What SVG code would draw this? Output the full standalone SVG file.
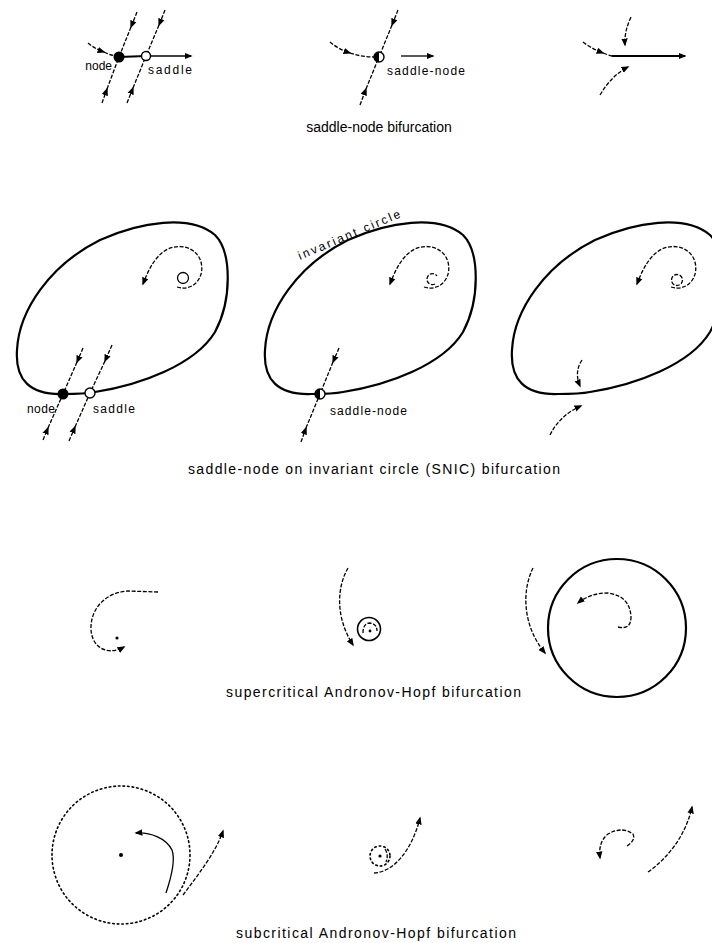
<svg xmlns="http://www.w3.org/2000/svg" width="712" height="943" viewBox="0 0 712 943">
<style>
text{font-family:"Liberation Sans",Arial,sans-serif;fill:#000}
.cap{font-size:14px}
.lab{font-size:12px}
.thick{fill:none;stroke:#000;stroke-width:2.2}
.traj{fill:none;stroke:#000;stroke-width:1.3;stroke-dasharray:4 1.6}
.sol{fill:none;stroke:#000;stroke-width:1.3}
.dot{fill:none;stroke:#000;stroke-width:1.6;stroke-dasharray:1.6 3;stroke-linecap:round}
.a{marker-end:url(#ah)}
</style>
<defs>
<marker id="ah" viewBox="0 0 10 10" refX="8" refY="5" markerWidth="8" markerHeight="8" orient="auto" markerUnits="userSpaceOnUse">
<path d="M0,1 L10,5 L0,9 z" fill="#000"/>
</marker>
<path id="loop" d="M 63 394 C 30 395, 15 380, 17 350 C 19 310, 50 265, 100 240 C 140 222, 190 214, 215 235 C 232 252, 232 300, 215 332 C 195 365, 140 385, 95 392 C 85 394, 72 394, 63 394 Z"/>
<path id="spiral" d="M 177 287 C 193 292, 205 278, 201 262 C 197 248, 181 243, 168 249 C 156 255, 149 268, 143 284"/>
</defs>
<rect width="712" height="943" fill="#fff"/>

<!-- Row 1: saddle-node bifurcation -->
<g id="sn-before">
<path class="traj a" d="M 88 43 Q 95 49 104 52"/>
<path class="traj" d="M 104 52 Q 110 55 116 56"/>
<path class="traj a" d="M 137 12 L 131 27"/><path class="traj" d="M 131 27 L 119 57"/>
<path class="traj a" d="M 102 103 L 107 89"/><path class="traj" d="M 107 89 L 119 57"/>
<path class="traj a" d="M 165 10 L 159 25"/><path class="traj" d="M 159 25 L 146 56"/>
<path class="traj a" d="M 127 103 L 133 88"/><path class="traj" d="M 133 88 L 146 56"/>
<line class="thick" x1="119" y1="57" x2="146" y2="56"/>
<line class="sol a" x1="150" y1="56" x2="191" y2="56"/>
<circle cx="119" cy="57" r="5.5" fill="#000"/>
<circle cx="146" cy="56" r="4.5" fill="#fff" stroke="#000" stroke-width="1.4"/>
<text class="lab" x="112" y="70" text-anchor="end" font-size="11">node</text>
<text class="lab" x="148" y="74" textLength="44">saddle</text>
</g>
<g id="sn-at">
<path class="traj a" d="M 330 42 Q 338 49 350 53"/>
<path class="traj" d="M 350 53 Q 362 57 374 57"/>
<path class="traj a" d="M 398 10 L 392 25"/><path class="traj" d="M 392 25 L 379 57"/>
<path class="traj a" d="M 360 105 L 366 89"/><path class="traj" d="M 366 89 L 379 57"/>
<line class="sol a" x1="401" y1="56" x2="433" y2="56"/>
<circle cx="379" cy="57" r="5" fill="#fff" stroke="#000" stroke-width="1.4"/>
<path d="M 379 52 A 5 5 0 0 0 379 62 Z" fill="#000"/>
<text class="lab" x="387" y="75" textLength="78">saddle-node</text>
</g>
<g id="sn-after">
<path class="traj a" d="M 583 42 Q 592 49 603 53"/>
<path class="traj" d="M 603 53 Q 608 55 612 56"/>
<line class="thick a" x1="612" y1="56" x2="685" y2="56"/>
<path class="traj a" d="M 631 17 Q 624 32 625 45"/>
<path class="traj a" d="M 600 95 Q 612 75 628 67"/>
</g>
<text id="cap1" class="cap" x="379" y="132" text-anchor="middle">saddle-node bifurcation</text>

<!-- Row 2: SNIC -->
<g id="snic-before">
<use href="#loop" class="thick"/>
<use href="#spiral" class="traj a"/>
<circle cx="183" cy="278" r="5.5" class="sol"/>
<path class="traj a" d="M 83 348 L 77 362"/><path class="traj" d="M 77 362 L 63 394"/>
<path class="traj a" d="M 43 440 L 48 428"/><path class="traj" d="M 48 428 L 63 394"/>
<path class="traj a" d="M 112 345 L 105 361"/><path class="traj" d="M 105 361 L 90 393"/>
<path class="traj a" d="M 69 441 L 75 427"/><path class="traj" d="M 75 427 L 90 393"/>
<circle cx="63" cy="394" r="5.5" fill="#000"/>
<circle cx="90" cy="393" r="5" fill="#fff" stroke="#000" stroke-width="1.4"/>
<text class="lab" x="27" y="413" textLength="28">node</text>
<text class="lab" x="93" y="413" textLength="42">saddle</text>
</g>
<g id="snic-at">
<use href="#loop" class="thick" transform="translate(248,0)"/>
<use href="#spiral" class="traj a" transform="translate(247,0)"/>
<path class="traj" d="M 435 284 A 5.5 5.5 0 1 1 437 276"/>
<path class="traj a" d="M 339 348 L 333 362"/><path class="traj" d="M 333 362 L 320 394"/>
<path class="traj a" d="M 301 442 L 306 428"/><path class="traj" d="M 306 428 L 320 394"/>
<circle cx="320" cy="394" r="5" fill="#fff" stroke="#000" stroke-width="1.4"/>
<path d="M 320 389 A 5 5 0 0 0 320 399 Z" fill="#000"/>
<text class="lab" x="330" y="415" textLength="77">saddle-node</text>
<text class="lab" transform="translate(300,260) rotate(-23)" textLength="110">invariant circle</text>
</g>
<g id="snic-after">
<use href="#loop" class="thick" transform="translate(495,0)"/>
<use href="#spiral" class="traj a" transform="translate(494,0)"/>
<circle cx="677" cy="280" r="5.5" class="traj"/>
<path class="traj a" d="M 582 360 Q 574 372 580 386"/>
<path class="traj a" d="M 550 435 Q 560 415 581 406"/>
</g>
<text id="cap2" class="cap" x="188" y="474" textLength="372">saddle-node on invariant circle (SNIC) bifurcation</text>

<!-- Row 3: supercritical Hopf -->
<g id="sup-before">
<path class="traj a" d="M 158 592 L 128 591 C 108 592, 92 606, 91 626 C 90 646, 106 657, 124 647"/>
<circle cx="117" cy="638" r="1.6" fill="#000"/>
</g>
<g id="sup-at">
<path class="traj a" d="M 348 568 C 338 585, 334 615, 353 645"/>
<circle cx="369" cy="629" r="11.5" fill="none" stroke="#000" stroke-width="1.6"/>
<path class="traj" d="M 363 633 Q 363 623 370 623 Q 377 624 377 631"/>
<circle cx="370" cy="631" r="1.4" fill="#000"/>
</g>
<g id="sup-after">
<circle cx="617" cy="628" r="69" class="thick"/>
<path class="traj a" d="M 533 568 C 522 590, 522 625, 545 653"/>
<path class="traj a" d="M 618 627 Q 631 630 631 617 Q 630 596 608 593 Q 590 593 578 603"/>
</g>
<text id="cap3" class="cap" x="226" y="697" textLength="295">supercritical Andronov-Hopf bifurcation</text>

<!-- Row 4: subcritical Hopf -->
<g id="sub-before">
<circle cx="121" cy="855" r="69" class="dot"/>
<circle cx="121" cy="855" r="2" fill="#000"/>
<path class="sol a" d="M 166 893 C 172 875, 175 858, 172 850 C 166 838, 150 832, 136 833"/>
<path class="traj a" d="M 183 895 C 198 875, 216 852, 223 831"/>
</g>
<g id="sub-at">
<circle cx="380" cy="856" r="10" class="dot"/>
<circle cx="380" cy="856" r="1.6" fill="#000"/>
<path class="traj" d="M 385 849 Q 389 855 386 862"/>
<path class="traj a" d="M 374 873 C 394 872, 412 850, 420 818"/>
</g>
<g id="sub-after">
<path class="traj a" d="M 627 846 Q 636 840 633 834 Q 622 826 608 834 Q 598 842 600 858"/>
<path class="traj a" d="M 648 872 C 668 858, 686 835, 692 807"/>
</g>
<text id="cap4" class="cap" x="236" y="938" textLength="280">subcritical Andronov-Hopf bifurcation</text>
</svg>
